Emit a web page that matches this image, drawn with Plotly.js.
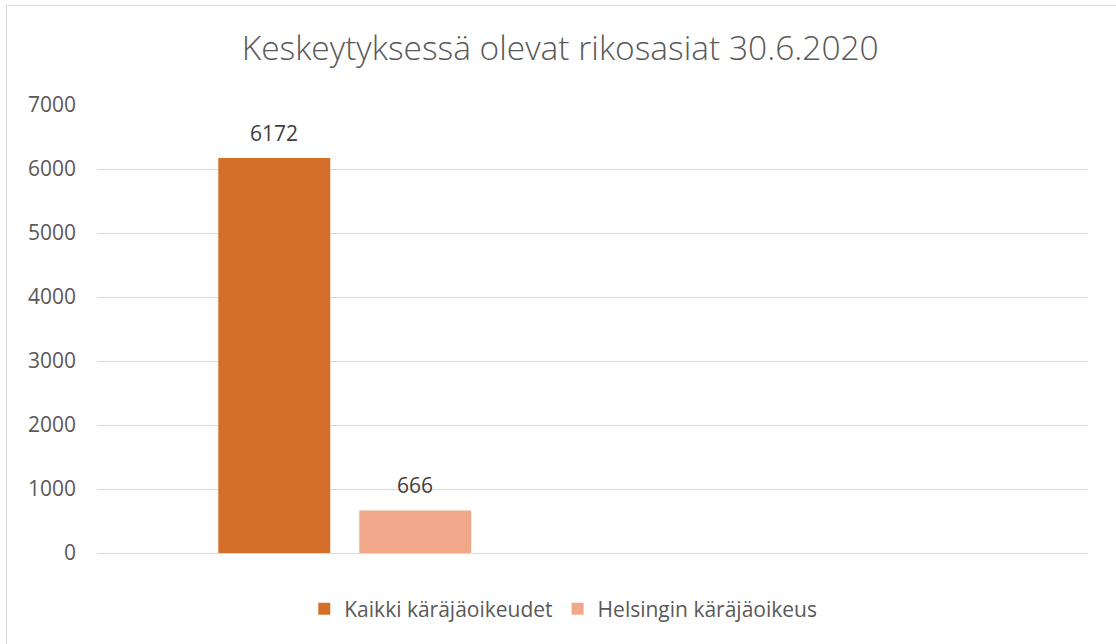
<!DOCTYPE html>
<html>
<head>
<meta charset="utf-8">
<script src="https://cdn.plot.ly/plotly-3.0.1.min.js"></script>
<style>
html,body{margin:0;padding:0;background:#fff;}
#chart{width:1116px;height:644px;}
#frame{position:absolute;left:6px;top:5px;width:1110px;height:639px;border-left:1px solid #d9d9d9;border-top:1px solid #d9d9d9;pointer-events:none;}
</style>
</head>
<body>
<div id="chart"></div>
<div id="frame"></div>
<script>
const categories = ["30.6.2020", " "];
const seriesNames = ["Kaikki käräjäoikeudet", "Helsingin käräjäoikeus"];
const kaikki = [6172, null];
const helsinki = [666, null];
const yTicks = [0, 1000, 2000, 3000, 4000, 5000, 6000, 7000];
const seriesColors = ["#D46F29", "#F1A88A"];

const FONT = "Open Sans, sans-serif";
const bargap = 0.431, bargroupgap = 0.206;
const series = [kaikki, helsinki];
const nSeries = series.length;

const traces = series.map((vals, i) => ({
  type: "bar", name: seriesNames[i], x: categories, y: vals,
  marker: {color: seriesColors[i]}, hoverinfo: "skip"
}));

// data labels above bars, placed at bar centers in category units
const slot = (1 - bargap) / nSeries;
const annotations = [];
series.forEach((vals, i) => {
  vals.forEach((v, j) => {
    if (v == null) return;
    annotations.push({
      xref: "x", yref: "y", x: j - (1 - bargap) / 2 + slot * (i + 0.5), y: v,
      text: String(v), showarrow: false, yanchor: "middle", yshift: 25,
      font: {family: FONT, size: 21, color: "#404040"}
    });
  });
});

const layout = {
  width: 1116, height: 644,
  margin: {l: 97, r: 28, t: 105, b: 91},
  paper_bgcolor: "#ffffff", plot_bgcolor: "#ffffff",
  title: {text: "Keskeytyksessä olevat rikosasiat 30.6.2020",
          font: {family: FONT, size: 33.5, color: "#595959", weight: 300},
          x: 0.502, xref: "container", xanchor: "center", y: 0.925, yanchor: "middle"},
  barmode: "group", bargap: bargap, bargroupgap: bargroupgap,
  xaxis: {type: "category", showticklabels: false, showgrid: false, zeroline: false,
          showline: false, ticks: "", fixedrange: true},
  yaxis: {range: [0, 7000], tickvals: yTicks, ticktext: yTicks.map(String),
          showgrid: true, gridcolor: "#d9d9d9", gridwidth: 1, zeroline: true, zerolinecolor: "#d9d9d9",
          showline: false, ticks: "", ticklabelstandoff: 20,
          tickfont: {family: FONT, size: 21, color: "#595959"}, fixedrange: true},
  annotations: annotations,
  showlegend: true,
  legend: {orientation: "h", x: 0.4705, xanchor: "center", y: -0.125, yanchor: "middle",
           font: {family: FONT, size: 21, color: "#595959"},
           itemwidth: 30, traceorder: "normal"},
};

Plotly.newPlot("chart", traces, layout, {displayModeBar: false, staticPlot: true});
</script>
</body>
</html>
